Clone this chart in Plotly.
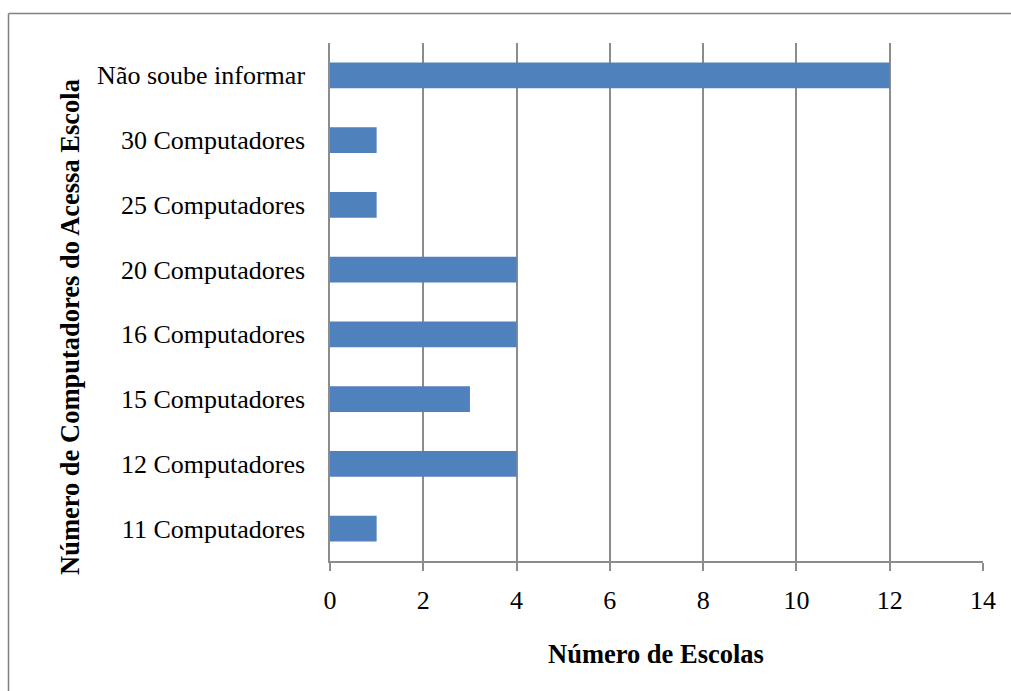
import plotly.graph_objects as go

categorias = [
    "11 Computadores",
    "12 Computadores",
    "15 Computadores",
    "16 Computadores",
    "20 Computadores",
    "25 Computadores",
    "30 Computadores",
    "Não soube informar",
]
escolas = [1, 4, 3, 4, 4, 1, 1, 12]
x_ticks = [0, 2, 4, 6, 8, 10, 12, 14]

W, H = 1011, 691
L, R, T, B = 330, 28, 43, 130
GRAY = "#8c8c8c"
FONT = "Liberation Serif, Times New Roman, serif"

fig = go.Figure(
    go.Bar(
        x=escolas,
        y=categorias,
        orientation="h",
        marker=dict(color="#4f81bd", line=dict(width=0)),
        width=0.4,
    )
)

pw = W - L - R
ph = H - T - B


def px_x(p):
    return (p - L) / pw


def px_y(p):
    return (H - B - p) / ph


fig.update_layout(
    width=W,
    height=H,
    margin=dict(l=L, r=R, t=T, b=B),
    paper_bgcolor="white",
    plot_bgcolor="white",
    showlegend=False,
    font=dict(family=FONT, size=26, color="black"),
    xaxis=dict(
        range=[0, 14],
        tickvals=x_ticks,
        showgrid=True,
        gridcolor=GRAY,
        gridwidth=1.5,
        zeroline=False,
        showline=True,
        linecolor=GRAY,
        linewidth=1.5,
        ticks="outside",
        ticklen=8,
        tickwidth=1.5,
        tickcolor=GRAY,
        ticklabelstandoff=7,
        tickfont=dict(family=FONT, size=26),
    ),
    yaxis=dict(
        categoryorder="array",
        categoryarray=categorias,
        showgrid=False,
        zeroline=False,
        showline=True,
        linecolor=GRAY,
        linewidth=1.5,
        ticks="",
        ticklabelstandoff=18,
        tickfont=dict(family=FONT, size=26),
    ),
    annotations=[
        dict(
            text="<b>Número de Escolas</b>",
            xref="paper", yref="paper",
            x=px_x(656), y=px_y(654),
            xanchor="center", yanchor="middle",
            showarrow=False,
            font=dict(family=FONT, size=26.5),
        ),
        dict(
            text="<b>Número de Computadores do Acessa Escola</b>",
            xref="paper", yref="paper",
            x=px_x(70), y=px_y(327),
            xanchor="center", yanchor="middle",
            textangle=-90,
            showarrow=False,
            font=dict(family=FONT, size=26.5),
        ),
    ],
    shapes=[
        # outer chart frame
        dict(type="line", xref="paper", yref="paper",
             x0=px_x(8.5), x1=px_x(1011), y0=px_y(13.5), y1=px_y(13.5),
             line=dict(color="#808080", width=1.5)),
        dict(type="line", xref="paper", yref="paper",
             x0=px_x(8.5), x1=px_x(8.5), y0=px_y(13.5), y1=px_y(691),
             line=dict(color="#808080", width=1.5)),
    ],
)

fig.write_html("out.html")
